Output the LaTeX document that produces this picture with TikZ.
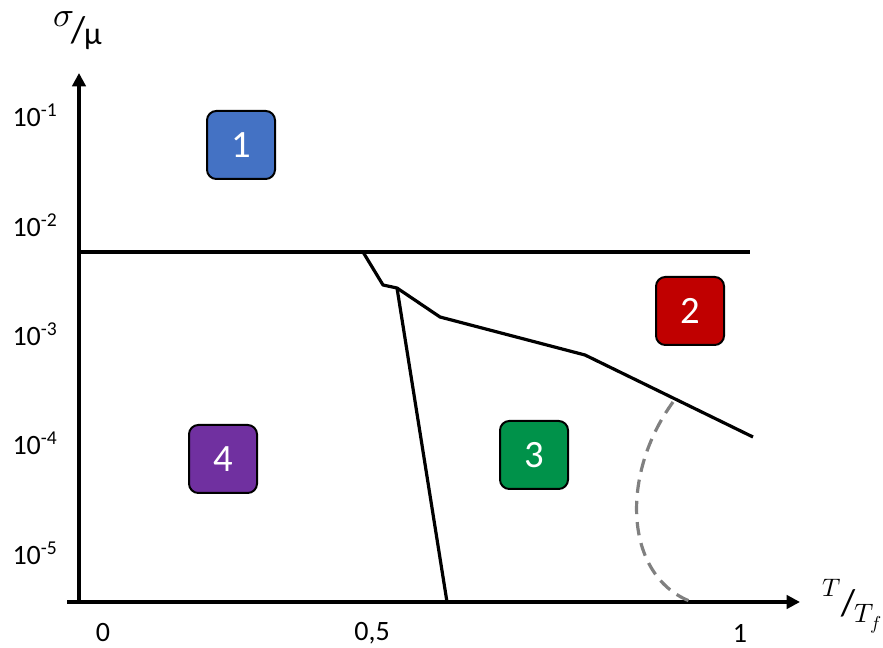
\documentclass[tikz,border=0pt]{standalone}
\usepackage{fontspec}
\setmainfont{Carlito}
\usepackage{unicode-math}
\setmathfont{Latin Modern Math}
\usetikzlibrary{arrows.meta}
\definecolor{cblue}{HTML}{4472C4}
\definecolor{cred}{HTML}{C00000}
\definecolor{cgreen}{HTML}{00924A}
\definecolor{cpurple}{HTML}{7030A0}
\tikzset{
  region/.style={draw=black, line width=1.5pt, rounded corners=7pt, minimum width=51pt, minimum height=51pt, inner sep=0pt, text=white, font=\fontsize{29}{31}\selectfont},
  axis/.style={line width=2.8pt, -{Triangle[length=10pt,width=10pt]}},
  bound/.style={line width=2.4pt},
  tick/.style={font=\fontsize{21}{24}\selectfont},
  lblpart/.style={inner sep=0pt, font=\fontsize{24}{26}\selectfont},
  lblslash/.style={inner sep=0pt, font=\fontsize{28}{30}\selectfont},
}
\begin{document}
\begin{tikzpicture}[x=0.75pt,y=-0.75pt]
\useasboundingbox (0,0) rectangle (883,648);
% axes
\coordinate (O) at (79,602);
\coordinate (Ytop) at (79,73);
\coordinate (Xstart) at (67,602);
\coordinate (Xend) at (800,602);
\draw[axis] (O) -- (Ytop);
\draw[axis] (Xstart) -- (Xend);
% boundaries
\coordinate (hl) at (79,252);
\coordinate (hr) at (750,252);
\draw[bound] (hl) -- (hr);
\coordinate (c0) at (363,252);
\coordinate (c1) at (383,285);
\coordinate (c2) at (397,288);
\coordinate (c3) at (440,317);
\coordinate (c4) at (585,355);
\coordinate (c5) at (753,437);
\coordinate (s1) at (447,602);
\draw[bound, line join=round] (c0) -- (c1) -- (c2) -- (c3) -- (c4) -- (c5);
\draw[bound] (c2) -- (s1);
% dashed
\coordinate (d0) at (673,402);
\coordinate (d1) at (692,602);
\draw[line width=2.4pt, gray, dash pattern=on 10pt off 6pt] (d0) .. controls (618,478) and (626,578) .. (d1);
% region boxes
\node[region, fill=cblue] (r1) at (241,145) {1};
\node[region, fill=cred] (r2) at (690,311) {2};
\node[region, fill=cgreen] (r3) at (534,455) {3};
\node[region, fill=cpurple] (r4) at (223,459) {4};
% tick labels
\node[tick] (y1) at (35,115) {10\textsuperscript{-1}};
\node[tick] (y2) at (35,225) {10\textsuperscript{-2}};
\node[tick] (y3) at (35,334) {10\textsuperscript{-3}};
\node[tick] (y4) at (35,443) {10\textsuperscript{-4}};
\node[tick] (y5) at (35,553) {10\textsuperscript{-5}};
\node[tick] (x0) at (103,633) {0};
\node[tick] (x05) at (372,633) {0,5};
\node[tick] (x1) at (740,633) {1};
% axis labels
\node[lblpart, font=\fontsize{26}{28}\selectfont] (ysig) at (64,19) {$\sigma$};
\node[lblslash] (ysl) at (78,30) {/};
\node[lblpart] (ymu) at (93,39) {μ};
\node[lblpart, font=\fontsize{19}{21}\selectfont] (xT) at (832,588) {$T$};
\node[lblslash] (xsl) at (848,603) {/};
\node[lblpart, font=\fontsize{20}{22}\selectfont] (xTf) at (868,619) {$T_f$};
\end{tikzpicture}
\end{document}
